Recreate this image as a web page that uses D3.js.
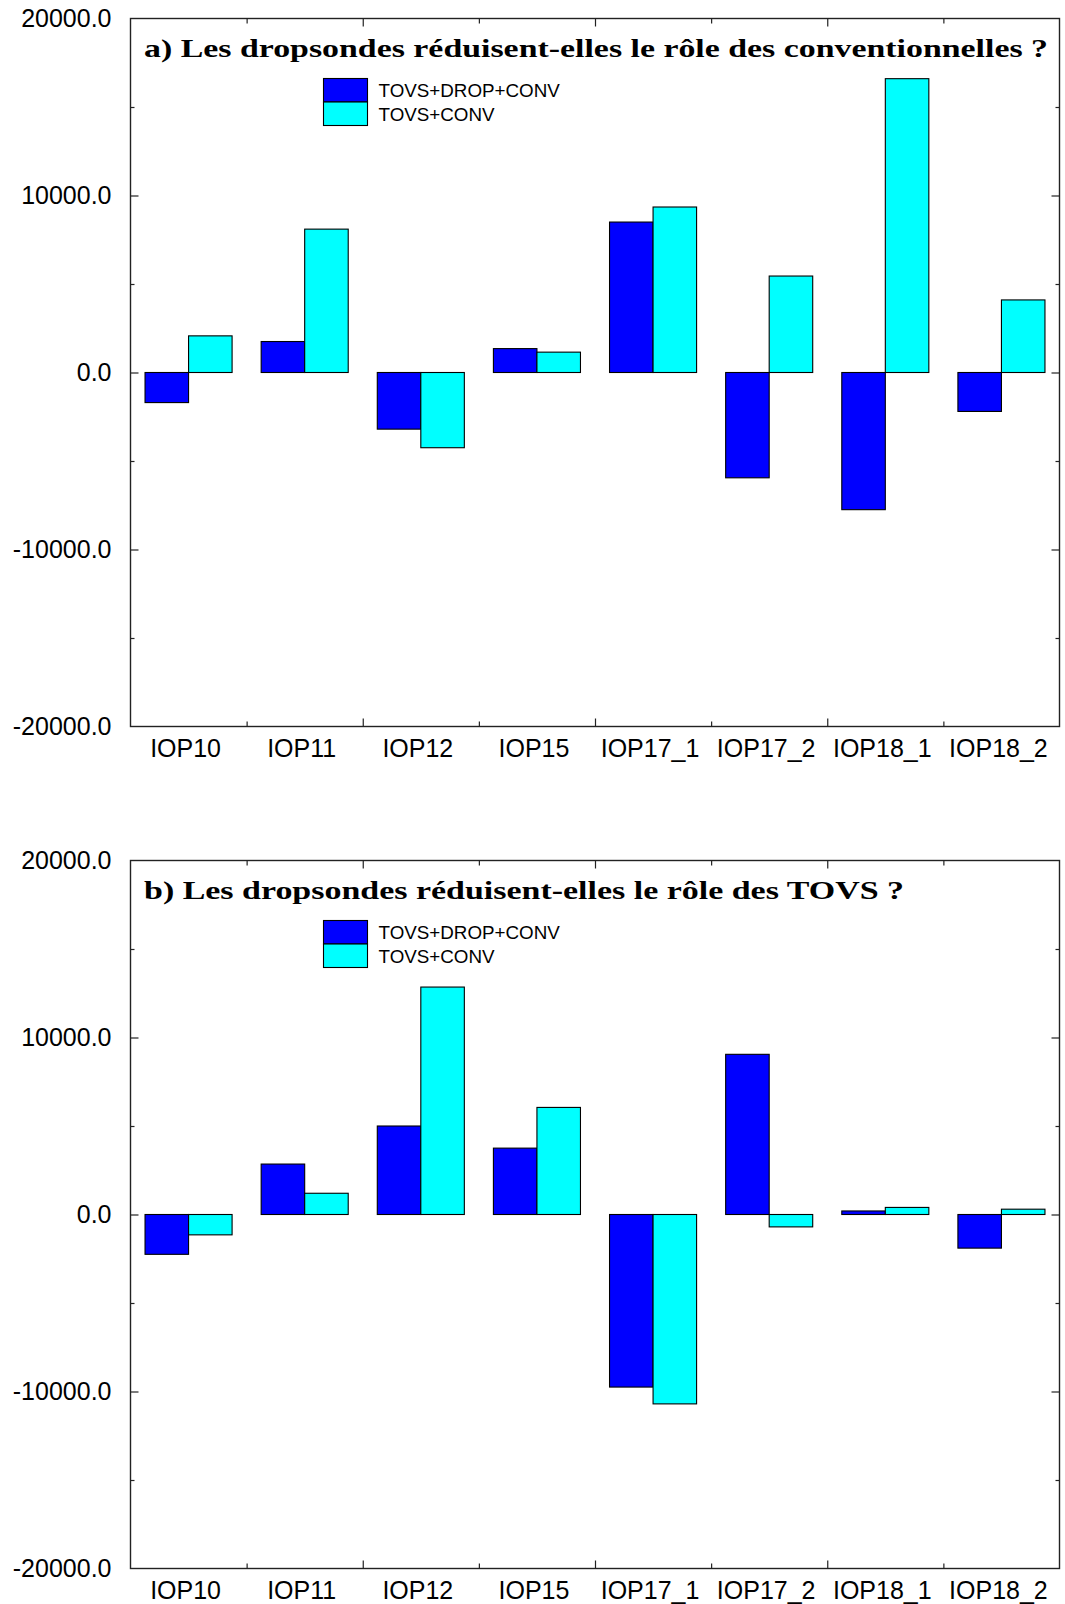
<!DOCTYPE html>
<meta charset="utf-8">
<style>
    body { margin: 0; background: #fff; }
    svg { display: block; }
    .axis path { display: none; }
    .axis line { stroke: #222; stroke-width: 1.2; }
</style>
<body>
<div id="chart"></div>
<script src="https://d3js.org/d3.v7.min.js"></script>
<script>
    // categories and series
    var categories = ['IOP10', 'IOP11', 'IOP12', 'IOP15', 'IOP17_1', 'IOP17_2', 'IOP18_1', 'IOP18_2']
    var seriesNames = ['TOVS+DROP+CONV', 'TOVS+CONV']
    var seriesColors = ['#0000ff', '#00ffff']

    // panel a) values
    var aDropConv = [-1700, 1750, -3200, 1350, 8500, -5950, -7750, -2200]
    var aConv = [2070, 8100, -4250, 1150, 9350, 5450, 16600, 4100]

    // panel b) values
    var bDropConv = [-2250, 2850, 5000, 3750, -9750, 9050, 200, -1900]
    var bConv = [-1150, 1200, 12850, 6050, -10700, -700, 400, 300]

    var yMajor = [-20000, -10000, 0, 10000, 20000]
    var yMinor = [-15000, -5000, 5000, 15000]

    var titleA = 'a) Les dropsondes réduisent-elles le rôle des conventionnelles ?'
    var titleB = 'b) Les dropsondes réduisent-elles le rôle des TOVS ?'

    var W = 1065, H = 1604
    var left = 130.5, right = 1059.5, plotH = 708

    var svg = d3.select('#chart').append('svg')
        .attr('width', W)
        .attr('height', H)

    var fmt = d3.formatLocale({ decimal: '.', thousands: '', grouping: [3], currency: ['', ''], minus: '-' }).format('.1f')

    function panel(top, title, titleLen, drop, conv) {
        var g = svg.append('g')
        var y = d3.scaleLinear().domain([-20000, 20000]).range([top + plotH, top])
        var x0 = d3.scaleBand().domain(categories).range([left, right])
        var x1 = d3.scaleBand().domain(seriesNames).range([0, x0.bandwidth()]).paddingOuter(0.334)
        var xb = d3.scaleLinear().domain([0, categories.length]).range([left, right])

        var rows = categories.map(function (c, i) {
            return { cat: c, values: [drop[i], conv[i]] }
        })

        // bars
        g.selectAll('g.grp')
            .data(rows)
            .enter().append('g')
            .attr('class', 'grp')
            .attr('transform', function (d) { return 'translate(' + x0(d.cat) + ',0)' })
            .selectAll('rect')
            .data(function (d) { return d.values.map(function (v, k) { return { k: k, v: v } }) })
            .enter().append('rect')
            .attr('x', function (d) { return x1(seriesNames[d.k]) })
            .attr('width', x1.bandwidth())
            .attr('y', function (d) { return y(Math.max(0, d.v)) })
            .attr('height', function (d) { return Math.abs(y(d.v) - y(0)) })
            .style('fill', function (d) { return seriesColors[d.k] })
            .style('stroke', '#000')
            .style('stroke-width', 1.1)

        // frame
        g.append('rect')
            .attr('x', left).attr('y', top)
            .attr('width', right - left).attr('height', plotH)
            .style('fill', 'none')
            .style('stroke', '#222')
            .style('stroke-width', 1.4)

        // y labels
        g.append('g').attr('class', 'axis')
            .attr('transform', 'translate(' + left + ',0)')
            .call(d3.axisLeft(y).tickValues(yMajor).tickSize(0).tickPadding(19).tickFormat(fmt))
            .selectAll('text')
            .style('font-family', '"Liberation Sans", Arial, sans-serif')
            .style('font-size', '25px')
            .style('fill', '#000')

        // inward ticks, left and right
        g.append('g').attr('class', 'axis')
            .attr('transform', 'translate(' + left + ',0)')
            .call(d3.axisRight(y).tickValues(yMajor.slice(1, -1)).tickSize(8).tickFormat(''))
        g.append('g').attr('class', 'axis')
            .attr('transform', 'translate(' + left + ',0)')
            .call(d3.axisRight(y).tickValues(yMinor).tickSize(4).tickFormat(''))
        g.append('g').attr('class', 'axis')
            .attr('transform', 'translate(' + right + ',0)')
            .call(d3.axisLeft(y).tickValues(yMajor.slice(1, -1)).tickSize(8).tickFormat(''))
        g.append('g').attr('class', 'axis')
            .attr('transform', 'translate(' + right + ',0)')
            .call(d3.axisLeft(y).tickValues(yMinor).tickSize(4).tickFormat(''))

        // category boundary ticks, top and bottom
        var evenB = [2, 4, 6], oddB = [1, 3, 5, 7]
        g.append('g').attr('class', 'axis')
            .attr('transform', 'translate(0,' + top + ')')
            .call(d3.axisBottom(xb).tickValues(evenB).tickSize(8).tickFormat(''))
        g.append('g').attr('class', 'axis')
            .attr('transform', 'translate(0,' + top + ')')
            .call(d3.axisBottom(xb).tickValues(oddB).tickSize(5).tickFormat(''))
        g.append('g').attr('class', 'axis')
            .attr('transform', 'translate(0,' + (top + plotH) + ')')
            .call(d3.axisTop(xb).tickValues(evenB).tickSize(8).tickFormat(''))
        g.append('g').attr('class', 'axis')
            .attr('transform', 'translate(0,' + (top + plotH) + ')')
            .call(d3.axisTop(xb).tickValues(oddB).tickSize(5).tickFormat(''))

        // category labels
        g.append('g').attr('class', 'axis')
            .attr('transform', 'translate(0,' + (top + plotH) + ')')
            .call(d3.axisBottom(x0).tickSize(0).tickPadding(13))
            .selectAll('text')
            .attr('dx', -3)
            .style('font-family', '"Liberation Sans", Arial, sans-serif')
            .style('font-size', '25px')
            .style('fill', '#000')

        // title
        g.append('text')
            .attr('x', 144)
            .attr('y', top + 38)
            .attr('textLength', titleLen)
            .attr('lengthAdjust', 'spacingAndGlyphs')
            .style('font-family', '"Liberation Serif", serif')
            .style('font-weight', 'bold')
            .style('font-size', '26px')
            .text(title)

        // legend
        var leg = g.append('g')
            .attr('transform', 'translate(323.5,' + (top + 60) + ')')
        seriesNames.forEach(function (s, k) {
            leg.append('rect')
                .attr('x', 0).attr('y', k * 23.5)
                .attr('width', 44).attr('height', 23.5)
                .style('fill', seriesColors[k])
                .style('stroke', '#000')
                .style('stroke-width', 1.1)
            leg.append('text')
                .attr('x', 55)
                .attr('y', 18.8 + k * 23.4)
                .style('font-family', '"Liberation Sans", Arial, sans-serif')
                .style('font-size', '18.8px')
                .text(s)
        })
    }

    panel(18.5, titleA, 904, aDropConv, aConv)
    panel(860.5, titleB, 760, bDropConv, bConv)
</script>
</body>
